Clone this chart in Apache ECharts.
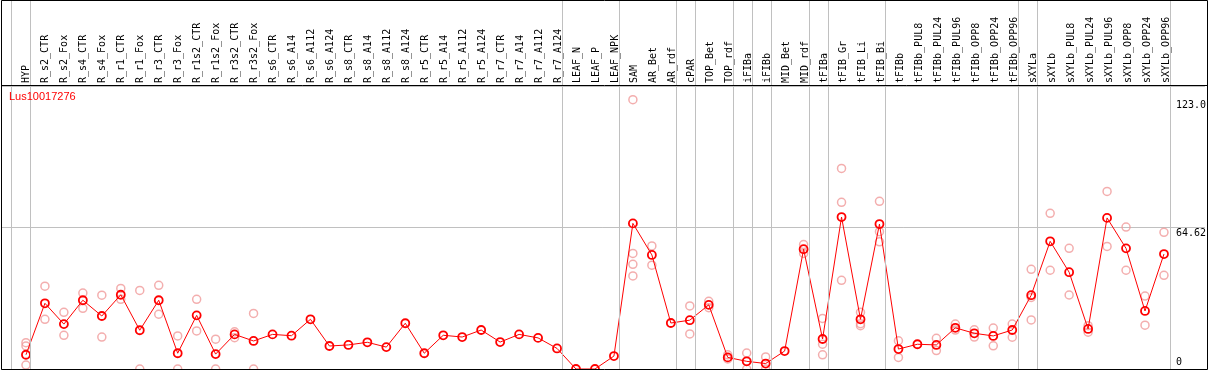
<!DOCTYPE html>
<html>
<head>
<meta charset="utf-8">
<script src="https://cdn.jsdelivr.net/npm/echarts@6/dist/echarts.min.js"></script>
<style>
html,body{margin:0;padding:0;background:#fff;}
#chart{width:1209px;height:370px;}
</style>
</head>
<body>
<div id="chart"></div>
<script>
var categories = ['HYP','R_s2_CTR','R_s2_Fox','R_s4_CTR','R_s4_Fox','R_r1_CTR','R_r1_Fox','R_r3_CTR','R_r3_Fox','R_r1s2_CTR','R_r1s2_Fox','R_r3s2_CTR','R_r3s2_Fox','R_s6_CTR','R_s6_A14','R_s6_A112','R_s6_A124','R_s8_CTR','R_s8_A14','R_s8_A112','R_s8_A124','R_r5_CTR','R_r5_A14','R_r5_A112','R_r5_A124','R_r7_CTR','R_r7_A14','R_r7_A112','R_r7_A124','LEAF_N','LEAF_P','LEAF_NPK','SAM','AR_Bet','AR_rdf','cPAR','TOP_Bet','TOP_rdf','iFIBa','iFIBb','MID_Bet','MID_rdf','tFIBa','tFIB_Gr','tFIB_Li','tFIB_Bi','tFIBb','tFIBb_PUL8','tFIBb_PUL24','tFIBb_PUL96','tFIBb_OPP8','tFIBb_OPP24','tFIBb_OPP96','sXYLa','sXYLb','sXYLb_PUL8','sXYLb_PUL24','sXYLb_PUL96','sXYLb_OPP8','sXYLb_OPP24','sXYLb_OPP96'];

var meanValues = [6.5,30.0,20.5,31.4,24.2,33.9,17.7,31.4,7.2,24.5,6.8,15.8,12.8,15.8,15.2,22.7,10.5,11.0,12.2,10.0,20.9,7.2,15.4,14.6,17.8,12.3,15.8,14.2,9.4,0,0,5.9,66.5,52.1,21.0,22.3,29.3,5.3,3.5,2.5,8.2,54.7,13.7,69.4,22.7,66.2,9.1,11.3,11.0,18.8,16.3,15.1,17.8,33.7,58.3,44.2,18.3,69.0,55.1,26.5,52.5];

var repValues = [
  [12.0,10.5,1.8],[37.8,22.7],[25.9,15.4],[34.7,27.7],[33.7,14.6],[36.8,31.8],[35.9,0],[38.2,25.0],[15.1,0],[31.8,17.4],
  [13.6,0],[17.0,14.3],[25.4,0],[],[],[],[],[],[],[],
  [],[],[],[],[],[],[],[],[],[],
  [],[],[123.0,52.8,47.8,42.5],[56.2,47.4],[],[28.8,16.0],[30.9,28.0],[6.5,4.6],[7.3,0],[5.5,0],
  [],[56.8,52.8],[23.1,11.3,6.5],[91.6,76.1,40.5],[25.9,20.7,19.8],[76.6,62.7,58.1],[12.9,5.3],[],[14.0,8.4],[20.5,17.8],
  [17.9,14.6],[18.7,10.6],[20.5,14.5],[45.5,32.7,22.4],[71.1,45.1],[55.1,33.8],[19.8,16.8],[81.1,56.0],[64.8,45.1],[33.3,20.0],
  [62.4,42.8]
];

// group separators: drawn just after these category indices
var separatorAfter = [-1,0,28,31,34,35,37,38,39,41,42,45,52,53,60];

var yTickValues = [0, 64.62, 123.0];
var yTickLabels = ['0', '64.62', '123.0'];
var yMax = 129.24;
var geneName = 'Lus10017276';

var meanData = meanValues.map(function(v, i){ return [i, v]; });
var repData = [];
repValues.forEach(function(arr, i){ arr.forEach(function(v){ repData.push([i, v]); }); });

// x mapping: category i at 26 + 19*i px, plot spans 1..1207
var step = 19, firstX = 26, plotL = 1, plotR = 1207;
var xMin = (plotL - firstX) / step;
var xMax = (plotR - firstX) / step;

var chart = echarts.init(document.getElementById('chart'), null, {renderer: 'canvas'});
var mono = 'DejaVu Sans Mono';
chart.setOption({
  animation: false,
  backgroundColor: '#fff',
  title: {
    text: geneName, left: 9, top: 91, padding: 0,
    textStyle: {color: '#ff0000', fontSize: 11, fontWeight: 'normal', fontFamily: 'Liberation Sans'}
  },
  grid: [
    {left: plotL, right: 1209 - plotR, top: 86, bottom: 1, show: false},
    {left: firstX - step/2, width: step * categories.length, top: 86, bottom: 1, show: false},
    {left: plotL, right: 1209 - plotR, top: 0, bottom: 1, show: false}
  ],
  xAxis: [
    {type: 'value', gridIndex: 0, min: xMin, max: xMax, axisLine: {show: false}, axisTick: {show: false}, axisLabel: {show: false}, splitLine: {show: false}},
    {type: 'category', gridIndex: 1, position: 'top', data: categories, boundaryGap: true,
      axisLine: {show: false}, axisTick: {show: false}, splitLine: {show: false},
      axisLabel: {rotate: 90, interval: 0, margin: 3, fontFamily: mono, fontSize: 10, color: '#000'}},
    {type: 'value', gridIndex: 2, min: xMin, max: xMax, show: false}
  ],
  yAxis: [
    {type: 'value', gridIndex: 0, position: 'right', min: 0, max: yMax, interval: yMax / 2,
      axisLine: {show: false}, axisTick: {show: false},
      splitLine: {show: true, lineStyle: {color: '#c0c0c0', width: 1}},
      axisLabel: {
        inside: true, margin: 29, align: 'left', verticalAlign: 'middle',
        customValues: yTickValues,
        fontFamily: mono, fontSize: 10, color: '#000',
        formatter: function(v){
          var idx = 0, best = Infinity;
          yTickValues.forEach(function(t, k){ if (Math.abs(t - v) < best) { best = Math.abs(t - v); idx = k; } });
          return idx === 0 ? '{b|' + yTickLabels[idx] + '}' : '{t|' + yTickLabels[idx] + '}';
        },
        rich: {
          t: {fontFamily: mono, fontSize: 10, color: '#000', padding: [12, 0, 0, 0]},
          b: {fontFamily: mono, fontSize: 10, color: '#000', padding: [0, 0, 13, 0]}
        }
      }},
    {type: 'value', gridIndex: 1, show: false, min: 0, max: yMax},
    {type: 'value', gridIndex: 2, show: false, min: 0, max: 1}
  ],
  series: [
    {
      type: 'line', xAxisIndex: 2, yAxisIndex: 2, data: [], z: 1, silent: true,
      markLine: {
        symbol: 'none', silent: true, animation: false,
        label: {show: false},
        lineStyle: {color: '#c0c0c0', type: 'solid', width: 1},
        data: separatorAfter.map(function(i){ return {xAxis: i + 0.24}; })
      }
    },
    {
      type: 'scatter', xAxisIndex: 0, yAxisIndex: 0, data: repData, z: 3,
      symbol: 'circle', symbolSize: 8,
      itemStyle: {color: 'rgba(0,0,0,0)', borderColor: '#f09a9a', borderWidth: 1.5}
    },
    {
      type: 'line', xAxisIndex: 0, yAxisIndex: 0, data: meanData, z: 4,
      showAllSymbol: true, symbol: 'circle', symbolSize: 8,
      lineStyle: {color: '#ff0000', width: 1},
      itemStyle: {color: 'rgba(0,0,0,0)', borderColor: '#ff0000', borderWidth: 1.8}
    }
  ],
  graphic: [
    {type: 'rect', z: 100, silent: true, shape: {x: 1.5, y: 0.5, width: 1206, height: 369}, style: {fill: 'none', stroke: '#000', lineWidth: 1}},
    {type: 'line', z: 100, silent: true, shape: {x1: 1, y1: 85.5, x2: 1208, y2: 85.5}, style: {stroke: '#000', lineWidth: 1}}
  ]
});
</script>
</body>
</html>
